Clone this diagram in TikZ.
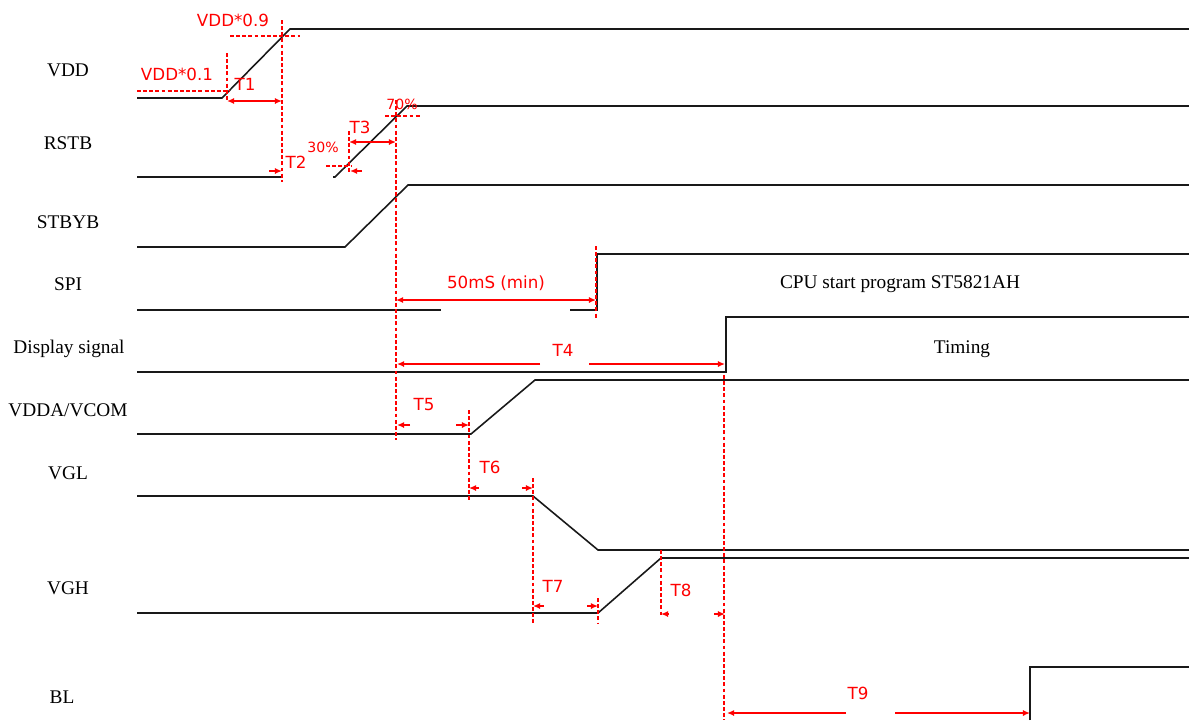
\documentclass[tikz,border=0pt]{standalone}
\usepackage{fontspec}
\setmainfont{Liberation Serif}
\newfontfamily\dimfont{DejaVu Sans}
\usetikzlibrary{arrows.meta}

\begin{document}
\begin{tikzpicture}[x=0.02cm,y=-0.02cm,
  sig/.style={line width=0.9pt,black!90},
  guide/.style={red,dash pattern=on 2.2pt off 1.3pt,line width=0.6pt},
  dim/.style={red,line width=0.8pt,{Latex[length=4pt,width=3.5pt]}-{Latex[length=4pt,width=3.5pt]}},
  tip/.style={red,line width=0.8pt,-{Latex[length=4pt,width=3.5pt]}},
  signame/.style={font=\fontsize{11}{12}\selectfont},
  lbl/.style={red,font=\dimfont\fontsize{9.5}{11}\selectfont},
  pct/.style={red,font=\dimfont\fontsize{8}{10}\selectfont}]
\useasboundingbox (0,0) rectangle (1189,720);

\node[signame] (vdd) at (68,70) {VDD};
\node[signame] (rstb) at (68,143) {RSTB};
\node[signame] (stbyb) at (68,222) {STBYB};
\node[signame] (spi) at (68,284) {SPI};
\node[signame] (disp) at (69,349) {Display signal};
\node[signame] (vdda) at (68,410) {VDDA/VCOM};
\node[signame] (vgl) at (68,473) {VGL};
\node[signame] (vgh) at (68,588) {VGH};
\node[signame] (bl) at (62,697) {BL};
\node[signame] (cpu) at (900,284) {CPU start program ST5821AH};
\node[signame] (timing) at (962,349) {Timing};

\draw[sig] (137,98) -- (222,98) -- (290,29) -- (1189,29);
\draw[sig] (137,177) -- (282,177);
\draw[sig] (333,177) -- (335,177) -- (407,106) -- (1189,106);
\draw[sig] (137,247) -- (345,247) -- (408,185) -- (1189,185);
\draw[sig] (137,310) -- (441,310);
\draw[sig] (570,310) -- (597,310) -- (597,254) -- (1189,254);
\draw[sig] (137,372) -- (726,372) -- (726,317) -- (1189,317);
\draw[sig] (137,434) -- (471,434) -- (535,380) -- (1189,380);
\draw[sig] (137,496) -- (533,496) -- (598,550) -- (1189,550);
\draw[sig] (137,613) -- (598,613) -- (661,558) -- (1189,558);
\draw[sig] (1030,720) -- (1030,667) -- (1189,667);

\draw[guide] (137,91) -- (230,91);
\draw[guide] (227,53) -- (227,100);
\draw[guide] (230,36) -- (300,36);
\draw[guide] (282,20) -- (282,182);
\draw[guide] (326,166) -- (352,166);
\draw[guide] (349,131) -- (349,172);
\draw[guide] (385,116) -- (420,116);
\draw[guide] (396,100) -- (396,440);
\draw[guide] (596,246) -- (596,318);
\draw[guide] (469,410) -- (469,500);
\draw[guide] (533,478) -- (533,624);
\draw[guide] (598,598) -- (598,624);
\draw[guide] (661,550) -- (661,617);
\draw[guide] (724,375) -- (724,720);

\node[lbl] (v09) at (233,20) {VDD*0.9};
\node[lbl] (v01) at (177,74) {VDD*0.1};
\node[pct] (p30) at (323,147) {30\%};
\node[pct] (p70) at (402,104) {70\%};

\draw[dim] (227,101) -- (282,101);
\node[lbl] (t1) at (245,84) {T1};
\draw[tip] (269,171) -- (282,171);
\draw[tip] (362,171) -- (350,171);
\node[lbl] (t2) at (296,162) {T2};
\draw[dim] (349,142) -- (396,142);
\node[lbl] (t3) at (360,127) {T3};
\draw[dim] (396,300) -- (596,300);
\node[lbl] (min) at (496,283) {50mS (min)};
\draw[tip] (540,364) -- (397,364);
\draw[tip] (589,364) -- (725,364);
\node[lbl] (t4) at (563,350) {T4};
\draw[tip] (410,425) -- (397,425);
\draw[tip] (456,425) -- (469,425);
\node[lbl] (t5) at (424,405) {T5};
\draw[tip] (479,488) -- (469,488);
\draw[tip] (522,488) -- (533,488);
\node[lbl] (t6) at (490,467) {T6};
\draw[tip] (544,606) -- (533,606);
\draw[tip] (587,606) -- (598,606);
\node[lbl] (t7) at (553,586) {T7};
\draw[tip] (669,614) -- (661,614);
\draw[tip] (714,614) -- (725,614);
\node[lbl] (t8) at (681,590) {T8};
\draw[tip] (846,713) -- (727,713);
\draw[tip] (895,713) -- (1030,713);
\node[lbl] (t9) at (858,693) {T9};
\end{tikzpicture}
\end{document}
